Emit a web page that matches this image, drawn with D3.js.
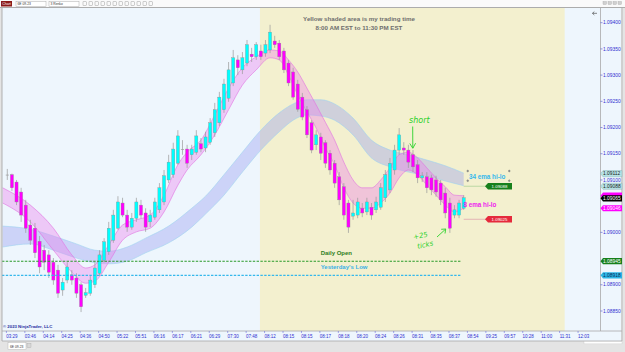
<!DOCTYPE html>
<html>
<head>
<meta charset="utf-8">
<script src="https://cdn.jsdelivr.net/npm/d3@7"></script>
<style>
  body { margin: 0; background: #e4e4e4; overflow: hidden; }
  svg { display: block; font-family: "Liberation Sans", Arial, sans-serif; }
</style>
</head>
<body>
<svg id="chart" width="625" height="352"></svg>
<script>
(function(){

	//Candle data (price), one entry per bar
	var opens = [1.09110,1.09110,1.09096,1.09077,1.09052,1.09014,1.09008,1.08983,1.08966,1.08957,
		1.08943,1.08928,1.08890,1.08909,1.08919,1.08913,1.08900,1.08880,1.08884,1.08900,
		1.08922,1.08947,1.08963,1.08985,1.09008,1.09056,1.09033,1.09010,1.09027,1.09052,
		1.09037,1.09020,1.09029,1.09043,1.09058,1.09100,1.09110,1.09132,1.09159,1.09159,
		1.09148,1.09153,1.09169,1.09161,1.09172,1.09190,1.09209,1.09234,1.09256,1.09285,
		1.09329,1.09310,1.09323,1.09340,1.09335,1.09346,1.09342,1.09348,1.09365,1.09361,
		1.09346,1.09323,1.09306,1.09283,1.09258,1.09234,1.09209,1.09167,1.09182,1.09171,
		1.09151,1.09132,1.09106,1.09087,1.09056,1.09031,1.09033,1.09046,1.09039,1.09048,
		1.09043,1.09048,1.09066,1.09081,1.09119,1.09157,1.09161,1.09157,1.09148,1.09129,
		1.09104,1.09106,1.09104,1.09100,1.09094,1.09075,1.09056,1.09033,1.09033,1.09046];
	var highs = [1.09121,1.09112,1.09100,1.09085,1.09062,1.09024,1.09018,1.08993,1.08976,1.08966,
		1.08951,1.08938,1.08913,1.08943,1.08928,1.08922,1.08905,1.08894,1.08917,1.08943,
		1.08966,1.08989,1.09020,1.09043,1.09069,1.09066,1.09043,1.09037,1.09066,1.09062,
		1.09046,1.09043,1.09066,1.09094,1.09119,1.09148,1.09171,1.09195,1.09176,1.09167,
		1.09167,1.09195,1.09180,1.09192,1.09218,1.09247,1.09268,1.09293,1.09325,1.09348,
		1.09338,1.09344,1.09367,1.09352,1.09363,1.09358,1.09367,1.09396,1.09375,1.09367,
		1.09352,1.09329,1.09314,1.09291,1.09266,1.09241,1.09214,1.09195,1.09190,1.09176,
		1.09157,1.09138,1.09115,1.09094,1.09062,1.09062,1.09066,1.09056,1.09066,1.09056,
		1.09068,1.09094,1.09119,1.09142,1.09167,1.09199,1.09172,1.09167,1.09157,1.09138,
		1.09115,1.09115,1.09110,1.09108,1.09100,1.09085,1.09066,1.09052,1.09062,1.09071];
	var lows = [1.09100,1.09079,1.09052,1.09020,1.08999,1.08976,1.08951,1.08922,1.08928,1.08913,
		1.08900,1.08875,1.08879,1.08903,1.08900,1.08875,1.08848,1.08875,1.08879,1.08894,
		1.08917,1.08943,1.08957,1.08980,1.09005,1.09029,1.09001,1.09005,1.09020,1.09027,
		1.09001,1.09010,1.09024,1.09037,1.09052,1.09094,1.09104,1.09129,1.09148,1.09123,
		1.09138,1.09148,1.09153,1.09153,1.09167,1.09182,1.09203,1.09228,1.09249,1.09279,
		1.09300,1.09302,1.09317,1.09325,1.09329,1.09329,1.09335,1.09342,1.09352,1.09329,
		1.09304,1.09279,1.09253,1.09230,1.09214,1.09180,1.09151,1.09157,1.09138,1.09123,
		1.09110,1.09085,1.09052,1.09024,1.08999,1.09024,1.09027,1.09029,1.09033,1.09024,
		1.09037,1.09043,1.09058,1.09075,1.09110,1.09148,1.09148,1.09123,1.09115,1.09094,
		1.09096,1.09075,1.09071,1.09068,1.09052,1.09027,1.08999,1.09027,1.09027,1.09043];
	var closes = [1.09110,1.09085,1.09058,1.09033,1.09008,1.08985,1.08961,1.08934,1.08943,1.08924,
		1.08909,1.08884,1.08905,1.08934,1.08909,1.08884,1.08858,1.08885,1.08909,1.08932,
		1.08957,1.08982,1.09008,1.09033,1.09058,1.09033,1.09010,1.09027,1.09058,1.09033,
		1.09010,1.09033,1.09058,1.09085,1.09108,1.09134,1.09159,1.09184,1.09159,1.09132,
		1.09159,1.09184,1.09159,1.09182,1.09209,1.09234,1.09258,1.09283,1.09310,1.09333,
		1.09314,1.09333,1.09358,1.09335,1.09358,1.09335,1.09358,1.09382,1.09358,1.09335,
		1.09310,1.09285,1.09258,1.09235,1.09220,1.09186,1.09157,1.09186,1.09151,1.09132,
		1.09119,1.09094,1.09062,1.09033,1.09010,1.09037,1.09058,1.09037,1.09058,1.09033,
		1.09058,1.09085,1.09110,1.09132,1.09157,1.09186,1.09157,1.09134,1.09125,1.09104,
		1.09108,1.09085,1.09081,1.09077,1.09062,1.09037,1.09008,1.09043,1.09056,1.09066];

	//EMA hi-lo bands (bar index, upper, lower)
	var ema34Idx = [-1,5,10,15,19,22,26,30,35,40,43,47,51,55,59,62,65,68,71,75,79,83,87,91,95,99];
	var ema34Hi = [1.09012,1.09006,1.08993,1.08978,1.08966,1.08964,1.08972,1.08989,1.09012,1.09046,
		1.09069,1.09110,1.09153,1.09195,1.09228,1.09245,1.09253,1.09253,1.09245,1.09218,
		1.09176,1.09157,1.09148,1.09138,1.09127,1.09113];
	var ema34Lo = [1.08972,1.08978,1.08966,1.08951,1.08942,1.08940,1.08945,1.08961,1.08980,1.09010,
		1.09035,1.09071,1.09115,1.09157,1.09192,1.09214,1.09224,1.09222,1.09214,1.09186,
		1.09142,1.09125,1.09115,1.09108,1.09098,1.09089];
	var ema8Idx = [-1,5,10,14,17,19,22,25,28,31,34,37,39,42,45,48,51,54,57,59,
		61,63,65,67,69,71,73,75,77,79,81,83,85,87,89,91,93,95,97,99];
	var ema8Hi = [1.09085,1.09052,1.09008,1.08957,1.08932,1.08938,1.08976,1.09014,1.09024,1.09033,
		1.09071,1.09129,1.09153,1.09176,1.09224,1.09275,1.09314,1.09335,1.09348,1.09346,
		1.09329,1.09306,1.09275,1.09243,1.09210,1.09176,1.09134,1.09100,1.09085,1.09085,
		1.09100,1.09123,1.09148,1.09153,1.09142,1.09123,1.09104,1.09087,1.09071,1.09070];
	var ema8Lo = [1.09056,1.09020,1.08966,1.08924,1.08903,1.08907,1.08943,1.08985,1.09001,1.09008,
		1.09039,1.09090,1.09119,1.09148,1.09186,1.09234,1.09281,1.09310,1.09333,1.09329,
		1.09300,1.09262,1.09230,1.09199,1.09161,1.09129,1.09085,1.09056,1.09046,1.09046,
		1.09056,1.09075,1.09104,1.09119,1.09110,1.09090,1.09071,1.09052,1.09039,1.09046];

	//Axis labels
	var timeLabels = ["03:29","03:46","04:14","04:25","04:36","04:50","05:22","05:51","06:16","06:17",
		"06:21","06:29","07:30","07:48","08:12","08:15","08:15","08:17","08:18","08:20",
		"08:24","08:26","08:31","08:35","08:37","08:54","09:25","09:57","10:28","11:00","11:31","12:03"];
	var priceTicks = [1.08850,1.08900,1.08950,1.09000,1.09050,1.09100,1.09150,1.09200,1.09250,1.09300,1.09350,1.09400];

	//Levels and markers
	var sessionBars = [54.8, 120.9];		//08:00 .. 11:30
	var dailyOpen = 1.08945;
	var yesterdayLow = 1.08918;
	var rayPrices = [1.09088, 1.09025];
	var tagPrices = [1.09112, 1.09088, 1.09070, 1.09065, 1.09046, 1.08945, 1.08918];
	var tagFills = ["#b6e3e6", "#b6e3e6", "#ff00ff", "#000000", "#ff00ff", "#17801c", "#2bb5e6"];
	var tagInk = ["#1a1a1a", "#1a1a1a", "none", "#ffffff", "#ffffff", "#ffffff", "#0c2a55"];

	//Layout
	var plotL = 2, plotR = 600.5, plotT = 8, plotB = 331;
	var bgBlue = "#eef6fd";
	var bgYellow = "#f3f0cf";
	var axisInk = "#2f2fd0";

	var svg = d3.select("#chart");
	var x = d3.scaleLinear().domain([0, 99]).range([7.3, 463.7]);
	var y = d3.scaleLinear().domain([1.08850, 1.09400]).range([311, 22.7]);

	//window + toolbar
	svg.append("rect").attr("width", 625).attr("height", 352).attr("fill", "#e4e4e4");
	svg.append("rect").attr("x", 0).attr("y", 0).attr("width", 625).attr("height", 7.5).attr("fill", "#fafafa");
	svg.append("line").attr("x1", 0).attr("x2", 625).attr("y1", 7.5).attr("y2", 7.5).attr("stroke", "#9a9a9a").attr("stroke-width", 0.8);
	svg.append("rect").attr("x", 1).attr("y", 1).attr("width", 11).attr("height", 5.5).attr("fill", "#8b1a1a");
	svg.append("text").attr("x", 6.5).attr("y", 5.2).attr("text-anchor", "middle").attr("font-size", 3.5).attr("fill", "#fff").text("Chart");
	[[16, "6E 09-23"], [49, "3 Renko"]].forEach(function(d){
		svg.append("rect").attr("x", d[0]).attr("y", 1.2).attr("width", 30).attr("height", 5).attr("fill", "#fff").attr("stroke", "#9a9a9a").attr("stroke-width", 0.4);
		svg.append("text").attr("x", d[0] + 1.5).attr("y", 5).attr("font-size", 3.3).attr("fill", "#333").text(d[1]);
	});
	d3.range(12).forEach(function(i){
		svg.append("rect").attr("x", 83 + i * 6).attr("y", 1.8).attr("width", 3.5).attr("height", 3.5)
			.attr("fill", "none").attr("stroke", "#888").attr("stroke-width", 0.4);
	});
	d3.range(4).forEach(function(i){
		svg.append("rect").attr("x", 603 + i * 5).attr("y", 1.5).attr("width", 3.5).attr("height", 3)
			.attr("fill", "#d0d0d0").attr("stroke", "#999").attr("stroke-width", 0.3);
	});

	//chart panel
	svg.append("rect").attr("x", plotL).attr("y", plotT).attr("width", 621 - plotL).attr("height", 341 - plotT).attr("fill", bgBlue);
	svg.append("defs").append("clipPath").attr("id", "plotClip")
		.append("rect").attr("x", plotL).attr("y", plotT).attr("width", plotR - plotL).attr("height", plotB - plotT);
	var plot = svg.append("g").attr("clip-path", "url(#plotClip)");

	plot.append("rect")
		.attr("x", x(sessionBars[0])).attr("y", plotT)
		.attr("width", x(sessionBars[1]) - x(sessionBars[0])).attr("height", plotB - plotT)
		.attr("fill", bgYellow);

	//title
	var title = svg.append("g").attr("font-weight", "bold").attr("font-size", 6.2).attr("fill", "#6e6e6e").attr("text-anchor", "middle");
	title.append("text").attr("x", 359).attr("y", 21).text("Yellow shaded area is my trading time");
	title.append("text").attr("x", 359).attr("y", 29.5).text("8:00 AM EST to 11:30 PM EST");

	//Bands
	function drawBand(idx, hi, lo, fill, edge){
		var pts = idx.map(function(d, i){ return {i: d, hi: hi[i], lo: lo[i]}; });
		var area = d3.area().curve(d3.curveMonotoneX)
			.x(function(d){ return x(d.i); })
			.y0(function(d){ return y(d.lo); })
			.y1(function(d){ return y(d.hi); });
		plot.append("path").attr("d", area(pts)).attr("fill", fill);
		["hi", "lo"].forEach(function(k){
			var line = d3.line().curve(d3.curveMonotoneX)
				.x(function(d){ return x(d.i); })
				.y(function(d){ return y(d[k]); });
			plot.append("path").attr("d", line(pts)).attr("fill", "none")
				.attr("stroke", edge).attr("stroke-width", 0.6);
		});
	}
	drawBand(ema34Idx, ema34Hi, ema34Lo, "rgba(150,155,240,0.38)", "#9fd3f0");
	drawBand(ema8Idx, ema8Hi, ema8Lo, "rgba(235,120,235,0.36)", "#e070e0");

	//Candles
	var bars = d3.range(opens.length).map(function(i){
		return {i: i, o: opens[i], h: highs[i], l: lows[i], c: closes[i]};
	});
	var bodyW = 3.1;
	var candle = plot.selectAll(".candle").data(bars).enter().append("g").attr("class", "candle");
	candle.append("line")
		.attr("x1", function(d){ return x(d.i); })
		.attr("x2", function(d){ return x(d.i); })
		.attr("y1", function(d){ return y(d.h); })
		.attr("y2", function(d){ return y(d.l); })
		.attr("stroke", "#9a9a9a").attr("stroke-width", 0.7);
	candle.append("rect")
		.attr("x", function(d){ return x(d.i) - bodyW / 2; })
		.attr("y", function(d){ return y(Math.max(d.o, d.c)); })
		.attr("width", bodyW)
		.attr("height", function(d){ return Math.max(0.7, Math.abs(y(d.o) - y(d.c))); })
		.attr("fill", function(d){ return d.c > d.o ? "#00ffff" : d.c < d.o ? "#ff00ff" : "#9a9a9a"; })
		.attr("stroke", function(d){ return d.c === d.o ? "none" : "#8c8c8c"; })
		.attr("stroke-width", 0.35);

	//Daily open / yesterday's low
	[[dailyOpen, "#2a9a2a", "Daily Open", "#2e7d22"], [yesterdayLow, "#35b8ec", "Yesterday's Low", "#3ab0e6"]].forEach(function(d, k){
		plot.append("line")
			.attr("x1", plotL).attr("x2", x(98.5))
			.attr("y1", y(d[0])).attr("y2", y(d[0]))
			.attr("stroke", d[1]).attr("stroke-width", 1.1).attr("stroke-dasharray", "2.4,1.4");
		plot.append("text").attr("x", 320.7).attr("y", y(d[0]) - (k === 0 ? 6.3 : 6.5))
			.attr("font-size", 6).attr("font-weight", "bold").attr("fill", d[3]).text(d[2]);
	});

	//Horizontal rays with price flags
	var rayLine = ["#bcd8a4", "#e4b4b4"], rayFlag = ["#17801c", "#e52a3c"];
	rayPrices.forEach(function(p, k){
		var yy = y(p);
		plot.append("line").attr("x1", x(99)).attr("x2", 486).attr("y1", yy).attr("y2", yy)
			.attr("stroke", rayLine[k]).attr("stroke-width", 1);
		plot.append("path")
			.attr("d", "M485," + yy + "L488," + (yy - 3.3) + "H512V" + (yy + 3.3) + "H488Z")
			.attr("fill", rayFlag[k]);
		plot.append("text").attr("x", 499.5).attr("y", yy + 1.6).attr("text-anchor", "middle")
			.attr("font-size", 4.4).attr("fill", "#fff").text(p.toFixed(5));
	});

	//Band labels
	plot.append("text").attr("x", 469).attr("y", 179).attr("font-size", 6.3).attr("font-weight", "bold")
		.attr("fill", "#35b8ec").text("34 ema hi-lo");
	[[467.7, 171], [509.3, 171], [467.7, 180.7], [509.3, 180.7]].forEach(function(p){
		plot.append("circle").attr("cx", p[0]).attr("cy", p[1]).attr("r", 0.9)
			.attr("fill", "#9a9a9a").attr("stroke", "#555").attr("stroke-width", 0.3);
	});
	plot.append("text").attr("x", 463.5).attr("y", 207.2).attr("font-size", 6.3).attr("font-weight", "bold")
		.attr("fill", "#ee22ee").text("8 ema hi-lo");

	//Hand-drawn notes
	var ink = "#2bd12b";
	var note = plot.append("g").attr("fill", ink).attr("font-style", "italic").attr("font-family", "'DejaVu Sans', sans-serif");
	note.append("text").attr("x", 409).attr("y", 123).attr("font-size", 8).text("short");
	note.append("text").attr("x", 413).attr("y", 237.5).attr("font-size", 7).attr("transform", "rotate(-12,423,235)").text("+25");
	note.append("text").attr("x", 417).attr("y", 246.5).attr("font-size", 7).attr("transform", "rotate(-12,428,244)").text("ticks");
	plot.append("path").attr("d", "M412.7,126.5L412.8,148M409.8,143.5L412.8,148.3L415.6,143.2")
		.attr("fill", "none").attr("stroke", ink).attr("stroke-width", 0.9);
	plot.append("path").attr("d", "M437,237L445.5,229.2M441.2,229.3L445.7,229L445,233.5")
		.attr("fill", "none").attr("stroke", ink).attr("stroke-width", 0.9);

	//copyright
	svg.append("text").attr("x", 3).attr("y", 328).attr("font-size", 4.3).attr("font-weight", "bold")
		.attr("fill", "#1f2fa0").text("© 2023 NinjaTrader, LLC");

	//frame lines
	svg.append("line").attr("x1", plotL).attr("x2", plotL).attr("y1", plotT).attr("y2", 341).attr("stroke", "#a8a8a8").attr("stroke-width", 0.9);
	svg.append("line").attr("x1", plotR).attr("x2", plotR).attr("y1", plotT).attr("y2", plotB).attr("stroke", "#a8a8a8").attr("stroke-width", 0.8);
	svg.append("line").attr("x1", plotL).attr("x2", 622).attr("y1", plotB).attr("y2", plotB).attr("stroke", "#a8a8a8").attr("stroke-width", 0.8);
	svg.append("line").attr("x1", 622).attr("x2", 622).attr("y1", plotT).attr("y2", 341).attr("stroke", "#b0b0b0").attr("stroke-width", 0.8);
	svg.append("line").attr("x1", plotL).attr("x2", 622).attr("y1", 341).attr("y2", 341).attr("stroke", "#a8a8a8").attr("stroke-width", 0.8);

	//price axis: labels hidden where a price tag sits on them
	var yAxis = svg.append("g");
	priceTicks.filter(function(p){
		return tagPrices.every(function(t){ return Math.abs(y(t) - y(p)) > 5.5; });
	}).forEach(function(p){
		yAxis.append("line").attr("x1", plotR).attr("x2", plotR + 2).attr("y1", y(p)).attr("y2", y(p))
			.attr("stroke", axisInk).attr("stroke-width", 0.5);
		yAxis.append("text").attr("x", 603).attr("y", y(p) + 1.7).attr("font-size", 4.9)
			.attr("fill", axisInk).text(p.toFixed(5));
	});
	tagPrices.forEach(function(p, k){
		var yy = y(p);
		yAxis.append("path")
			.attr("d", "M" + plotR + "," + yy + "L" + (plotR + 2.5) + "," + (yy - 3.1) + "H622V" + (yy + 3.1) + "H" + (plotR + 2.5) + "Z")
			.attr("fill", tagFills[k]).attr("stroke", k < 2 ? "#7fa8ac" : "none").attr("stroke-width", 0.4);
		if (tagInk[k] !== "none") {
			yAxis.append("text").attr("x", 603).attr("y", yy + 1.7).attr("font-size", 4.9)
				.attr("fill", tagInk[k]).text(p.toFixed(5));
		}
	});

	//time axis
	var xAxis = svg.append("g");
	timeLabels.forEach(function(t, k){
		var xx = x(1 + 4 * k);
		xAxis.append("line").attr("x1", xx - 5.5).attr("x2", xx - 5.5).attr("y1", plotB).attr("y2", plotB + 2)
			.attr("stroke", axisInk).attr("stroke-width", 0.4);
		xAxis.append("text").attr("x", xx).attr("y", 338).attr("text-anchor", "middle").attr("font-size", 4.5)
			.attr("fill", axisInk).text(t);
	});

	//bottom tab strip
	svg.append("rect").attr("x", 584).attr("y", 341.5).attr("width", 38).attr("height", 2.4).attr("fill", "#fff").attr("stroke", "#bbb").attr("stroke-width", 0.3);
	svg.append("rect").attr("x", 8).attr("y", 342.5).attr("width", 18).attr("height", 7).attr("fill", "#fff").attr("stroke", "#aaa").attr("stroke-width", 0.4);
	svg.append("text").attr("x", 10).attr("y", 347.6).attr("font-size", 3.3).attr("fill", "#333").text("6E 09-23");
	svg.append("rect").attr("x", 27).attr("y", 343.5).attr("width", 4).attr("height", 4).attr("fill", "#d8d8d8").attr("stroke", "#999").attr("stroke-width", 0.3);

	//small arrow top right
	svg.append("path").attr("d", "M592.5,13.3H597M594.3,11.6L592.5,13.3L594.3,15").attr("fill", "none").attr("stroke", "#333").attr("stroke-width", 0.6);

})();
</script>
</body>
</html>
